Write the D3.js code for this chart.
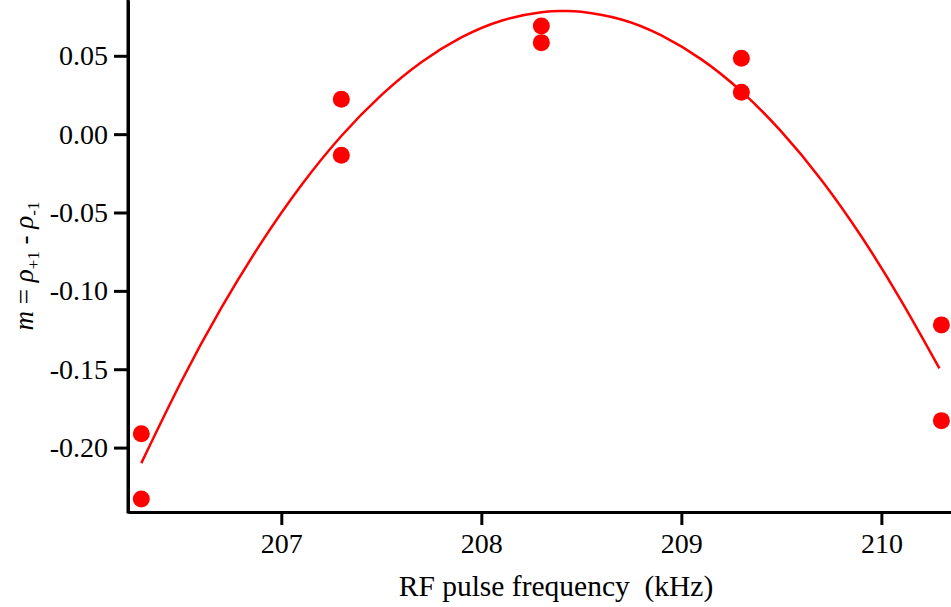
<!DOCTYPE html>
<html>
<head>
<meta charset="utf-8">
<script src="https://cdn.jsdelivr.net/npm/d3@7"></script>
<style>
  html, body { margin: 0; padding: 0; background: #fff; }
  svg { display: block; }
  svg text { font-family: "Liberation Serif", "Times New Roman", serif; fill: #000; white-space: pre; }
</style>
</head>
<body>
<svg id="chart" width="951" height="607"></svg>
<script>
// Measured magnetization vs RF pulse frequency (two shots per frequency)
const freqs = [206.3, 206.3, 207.3, 207.3, 208.3, 208.3, 209.3, 209.3, 210.3, 210.3];
const mValues = [-0.1911, -0.2328, 0.0222, -0.0134, 0.0690, 0.0584, 0.0484, 0.0267, -0.1217, -0.1828];

// Fitted resonance curve, tabulated
const fitFreqs = [206.30, 206.50, 206.70, 206.90, 207.10, 207.30, 207.50, 207.70, 207.90, 208.10, 208.30,
                  208.41, 208.50, 208.70, 208.90, 209.10, 209.30, 209.50, 209.70, 209.90, 210.10, 210.29];
const fitValues = [-0.2099, -0.1578, -0.1109, -0.0692, -0.0326, -0.0012, 0.0249, 0.0459, 0.0617, 0.0724, 0.0778,
                   0.0786, 0.0781, 0.0732, 0.0630, 0.0477, 0.0273, 0.0016, -0.0292, -0.0653, -0.1065, -0.1494];

const xTicks = [207, 208, 209, 210];
const yTicks = [0.05, 0.00, -0.05, -0.10, -0.15, -0.20];

const svg = d3.select("#chart");
const plotLeft = 128, plotBottom = 512, plotRight = 951, plotTop = 0;

const x = d3.scaleLinear().domain([206.2335, 210.348]).range([plotLeft, plotRight]);
const y = d3.scaleLinear().domain([-0.2411, 0.0856]).range([plotBottom, plotTop]);

// Axes
const xAxis = d3.axisBottom(x).tickValues(xTicks).tickFormat(d3.format("d"))
  .tickSizeInner(13).tickSizeOuter(0).tickPadding(8);
const yAxis = d3.axisLeft(y).tickValues(yTicks)
  .tickFormat(d => d3.format(".2f")(d).replace("\u2212", "-"))
  .tickSizeInner(14).tickSizeOuter(0).tickPadding(6);

const gx = svg.append("g").attr("transform", `translate(0,${plotBottom})`).call(xAxis);
const gy = svg.append("g").attr("transform", `translate(${plotLeft},0)`).call(yAxis);

[gx, gy].forEach(g => {
  g.attr("font-family", null).attr("font-size", null);
  g.select(".domain").attr("stroke", "#000").attr("stroke-width", 3);
  g.selectAll(".tick line").attr("stroke", "#000").attr("stroke-width", 3);
  g.selectAll(".tick text").style("font-family", "'Liberation Serif', serif").style("font-size", "28px");
});

// close the corner between the two axis lines
svg.append("line").attr("x1", plotLeft).attr("x2", plotLeft).attr("y1", plotTop).attr("y2", plotBottom + 1.5)
  .attr("stroke", "#000").attr("stroke-width", 3);

// Fit curve
const line = d3.line().x((d, i) => x(fitFreqs[i])).y((d, i) => y(fitValues[i])).curve(d3.curveNatural);
svg.append("path").datum(fitValues).attr("d", line)
  .attr("fill", "none").attr("stroke", "#ff0000").attr("stroke-width", 2.5);

// Data points
svg.append("g").selectAll("circle").data(mValues).join("circle")
  .attr("cx", (d, i) => x(freqs[i])).attr("cy", d => y(d)).attr("r", 8.5)
  .attr("fill", "#ff0000");

// Axis titles
svg.append("text").attr("x", 556).attr("y", 596).attr("text-anchor", "middle")
  .style("font-size", "29.5px").text("RF pulse frequency  (kHz)");

const yl = svg.append("text").attr("transform", "translate(33,266) rotate(-90)")
  .attr("text-anchor", "middle").style("font-size", "27px");
yl.append("tspan").attr("font-style", "italic").text("m");
yl.append("tspan").text(" = ");
yl.append("tspan").attr("font-style", "italic").text("ρ");
yl.append("tspan").style("font-size", "17px").attr("dy", 6).text("+1");
yl.append("tspan").attr("dy", -6).text(" - ");
yl.append("tspan").attr("font-style", "italic").text("ρ");
yl.append("tspan").style("font-size", "17px").attr("dy", 6).text("-1");
</script>
</body>
</html>
